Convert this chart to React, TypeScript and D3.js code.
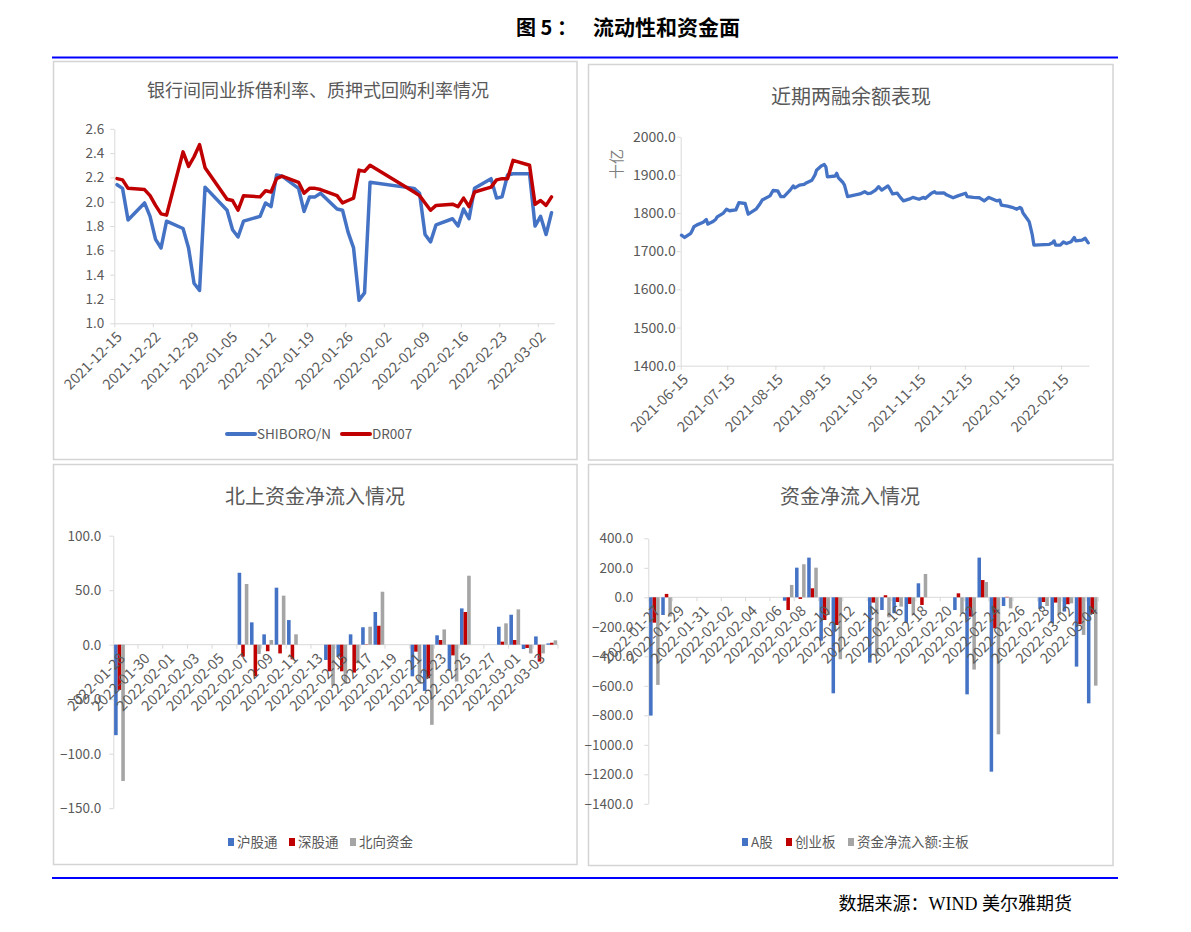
import { useEffect, useRef } from 'react';
import * as d3 from 'd3';

const W = 1191;
const H = 932;
const FONT = "'Noto Sans CJK SC', 'Noto Sans', sans-serif";
const AXIS = '#d9d9d9';
const LABEL = '#595959';
const BLUE = '#4472c4';
const RED = '#c00000';
const GRAY = '#a5a5a5';

// ---- 银行间同业拆借利率、质押式回购利率 ----
const rateDates = [
  '2021-12-15', '2021-12-16', '2021-12-17', '2021-12-20', '2021-12-21', '2021-12-22', '2021-12-23', '2021-12-24',
  '2021-12-27', '2021-12-28', '2021-12-29', '2021-12-30', '2021-12-31', '2022-01-04', '2022-01-05', '2022-01-06',
  '2022-01-07', '2022-01-10', '2022-01-11', '2022-01-12', '2022-01-13', '2022-01-14', '2022-01-17', '2022-01-18',
  '2022-01-19', '2022-01-20', '2022-01-21', '2022-01-24', '2022-01-25', '2022-01-26', '2022-01-27', '2022-01-28',
  '2022-01-29', '2022-01-30', '2022-02-07', '2022-02-08', '2022-02-09', '2022-02-10', '2022-02-11', '2022-02-14',
  '2022-02-15', '2022-02-16', '2022-02-17', '2022-02-18', '2022-02-21', '2022-02-22', '2022-02-23', '2022-02-24',
  '2022-02-25', '2022-02-28', '2022-03-01', '2022-03-02', '2022-03-03', '2022-03-04'
];
const shiborValues = [
  2.14, 2.11, 1.85, 1.99, 1.88, 1.69, 1.62, 1.84,
  1.78, 1.62, 1.33, 1.27, 2.12, 1.93, 1.77, 1.71,
  1.84, 1.88, 1.99, 1.96, 2.22, 2.21, 2.11, 1.92,
  2.04, 2.04, 2.07, 1.94, 1.93, 1.75, 1.62, 1.19,
  1.25, 2.16, 2.11, 2.07, 1.73, 1.67, 1.81, 1.86,
  1.80, 1.94, 1.86, 2.11, 2.19, 2.03, 2.04, 2.22,
  2.23, 2.23, 1.80, 1.88, 1.73, 1.91
];
const dr007Values = [
  2.19, 2.18, 2.11, 2.10, 2.05, 1.97, 1.90, 1.89,
  2.41, 2.29, 2.37, 2.47, 2.28, 2.02, 2.01, 1.93,
  2.05, 2.04, 2.09, 2.08, 2.19, 2.21, 2.16, 2.07,
  2.11, 2.11, 2.10, 2.05, 1.99, 2.01, 2.03, 2.26,
  2.25, 2.30, 2.08, 2.05, 1.99, 1.93, 1.97, 1.98,
  1.96, 2.03, 1.96, 2.08, 2.12, 2.18, 2.19, 2.19,
  2.34, 2.30, 1.98, 2.01, 1.97, 2.04
];
const rateDomain = ['2021-12-15', '2022-03-05'];
const rateTicks = [
  '2021-12-15', '2021-12-22', '2021-12-29', '2022-01-05', '2022-01-12', '2022-01-19',
  '2022-01-26', '2022-02-02', '2022-02-09', '2022-02-16', '2022-02-23', '2022-03-02'
];
const rateYTicks = [1.0, 1.2, 1.4, 1.6, 1.8, 2.0, 2.2, 2.4, 2.6];

// ---- 近期两融余额 ----
const marginDates = [
  '2021-06-15', '2021-06-17', '2021-06-21', '2021-06-22', '2021-06-23', '2021-06-25', '2021-06-29', '2021-07-01',
  '2021-07-02', '2021-07-05', '2021-07-07', '2021-07-08', '2021-07-12', '2021-07-14', '2021-07-16', '2021-07-20',
  '2021-07-22', '2021-07-26', '2021-07-28', '2021-08-02', '2021-08-04', '2021-08-06', '2021-08-11', '2021-08-13',
  '2021-08-16', '2021-08-18', '2021-08-20', '2021-08-24', '2021-08-26', '2021-08-27', '2021-08-30', '2021-09-02',
  '2021-09-03', '2021-09-07', '2021-09-09', '2021-09-10', '2021-09-13', '2021-09-15', '2021-09-16', '2021-09-17',
  '2021-09-22', '2021-09-23', '2021-09-24', '2021-09-27', '2021-09-28', '2021-09-30', '2021-10-08', '2021-10-11',
  '2021-10-13', '2021-10-15', '2021-10-18', '2021-10-20', '2021-10-22', '2021-10-26', '2021-10-27', '2021-10-29',
  '2021-11-01', '2021-11-03', '2021-11-05', '2021-11-09', '2021-11-11', '2021-11-15', '2021-11-18', '2021-11-19',
  '2021-11-23', '2021-11-25', '2021-11-26', '2021-12-01', '2021-12-03', '2021-12-07', '2021-12-10', '2021-12-15',
  '2021-12-16', '2021-12-20', '2021-12-24', '2021-12-27', '2021-12-30', '2022-01-04', '2022-01-06', '2022-01-07',
  '2022-01-11', '2022-01-14', '2022-01-17', '2022-01-19', '2022-01-20', '2022-01-21', '2022-01-24', '2022-01-25',
  '2022-01-26', '2022-01-27', '2022-01-28', '2022-02-07', '2022-02-09', '2022-02-10', '2022-02-11', '2022-02-14',
  '2022-02-16', '2022-02-18', '2022-02-21', '2022-02-23', '2022-02-24', '2022-02-28', '2022-03-02', '2022-03-04'
];
const marginValues = [
  1742, 1736, 1747, 1755, 1764, 1769, 1776, 1783,
  1771, 1777, 1783, 1790, 1800, 1810, 1806, 1808,
  1827, 1825, 1797, 1810, 1821, 1834, 1845, 1859,
  1858, 1843, 1843, 1860, 1871, 1866, 1873, 1875,
  1878, 1886, 1900, 1912, 1923, 1927, 1921, 1895,
  1897, 1904, 1893, 1880, 1873, 1843, 1850, 1856,
  1851, 1852, 1860, 1869, 1860, 1871, 1865, 1850,
  1852, 1841, 1832, 1837, 1841, 1836, 1841, 1838,
  1852, 1856, 1852, 1853, 1847, 1840, 1845, 1852,
  1843, 1841, 1840, 1832, 1841, 1832, 1834, 1821,
  1818, 1815, 1810, 1815, 1812, 1800, 1783, 1777,
  1760, 1742, 1716, 1718, 1722, 1727, 1716, 1716,
  1724, 1720, 1725, 1736, 1727, 1729, 1734, 1722
];
const marginDomain = ['2021-06-15', '2022-03-05'];
const marginTicks = [
  '2021-06-15', '2021-07-15', '2021-08-15', '2021-09-15', '2021-10-15',
  '2021-11-15', '2021-12-15', '2022-01-15', '2022-02-15'
];
const marginYTicks = [1400, 1500, 1600, 1700, 1800, 1900, 2000];

// ---- 北上资金净流入 ----
const northRange = ['2022-01-28', '2022-03-05'];
const northDates = [
  '2022-01-28', '2022-02-07', '2022-02-08', '2022-02-09', '2022-02-10', '2022-02-11', '2022-02-14',
  '2022-02-15', '2022-02-16', '2022-02-17', '2022-02-18', '2022-02-21', '2022-02-22', '2022-02-23',
  '2022-02-24', '2022-02-25', '2022-02-28', '2022-03-01', '2022-03-02', '2022-03-03', '2022-03-04'
];
const shConnect = [-83, 66, 20.5, 9.5, 52.3, 22.6, -14, -11, 9.5, 16, 30, -29, -42.4, 8.6, -23.8, 33.3, 16.5, 27.5, -4, 7.6, 1.2];
const szConnect = [-41.5, -11, -29, -6, -8, -13.4, -24.4, -24.4, -25.6, 0.3, 17.4, -6.4, -30.8, 4.3, -9.8, 30, 2.8, 4.3, -3, -15.5, 1.8];
const northTotal = [-125, 55.7, -8.5, 4.3, 45, 9.5, -37.5, -36, -17, 16.5, 48.6, -36, -73.5, 14, -33.8, 63.3, 19.6, 32.4, -8, -8, 4];
const northYTicks = [-150, -100, -50, 0, 50, 100];
const northSeries = ['沪股通', '深股通', '北向资金'];

// ---- 资金净流入 ----
const flowRange = ['2022-01-27', '2022-03-05'];
const flowDates = [
  '2022-01-27', '2022-01-28', '2022-02-07', '2022-02-08', '2022-02-09', '2022-02-10', '2022-02-11', '2022-02-14',
  '2022-02-15', '2022-02-16', '2022-02-17', '2022-02-18', '2022-02-21', '2022-02-22', '2022-02-23', '2022-02-24',
  '2022-02-25', '2022-02-28', '2022-03-01', '2022-03-02', '2022-03-03', '2022-03-04'
];
const aShare = [-802, -120, -23, 201, 269, -294, -651, -443, -86, -108, -172, 95, -86, -658, 269, -1182, -59, -79, -176, -97, -470, -719];
const chiNext = [-172, 23, -86, -11, 61, -154, -188, -36, 14, -32, -45, -52, 27, -131, 117, -210, 3, -32, -36, -47, -183, -113];
const mainBoard = [-594, -130, 84, 224, 201, -120, -420, -398, -136, -63, -120, 158, -108, -490, 104, -929, -75, -59, -120, -41, -255, -599];
const flowYTicks = [-1400, -1200, -1000, -800, -600, -400, -200, 0, 200, 400];
const flowSeries = ['A股', '创业板', '资金净流入额:主板'];

const parse = d3.timeParse('%Y-%m-%d');
const fmtDay = d3.timeFormat('%Y-%m-%d');
const noon = (s: string) => d3.timeHour.offset(parse(s) as Date, 12);

type Sel = d3.Selection<SVGGElement, unknown, null, undefined>;

function styleAxis(g: Sel, size = 13.5) {
  g.attr('font-family', FONT).attr('font-size', size);
  g.select('.domain').attr('stroke', AXIS).attr('stroke-width', 1);
  g.selectAll('line').attr('stroke', AXIS);
  g.selectAll('text').attr('fill', LABEL);
}

function rotatedLabels(g: Sel, items: { x: number; text: string }[], y: number) {
  g.append('g')
    .selectAll('text')
    .data(items)
    .join('text')
    .attr('transform', d => `translate(${d.x},${y}) rotate(-45)`)
    .attr('text-anchor', 'end')
    .attr('dy', '0.35em')
    .attr('font-family', FONT)
    .attr('font-size', 14.5)
    .attr('fill', LABEL)
    .text(d => d.text);
}

function title(g: Sel, text: string, x: number, y: number, size: number) {
  g.append('text')
    .attr('x', x)
    .attr('y', y)
    .attr('text-anchor', 'middle')
    .attr('font-family', FONT)
    .attr('font-size', size)
    .attr('fill', LABEL)
    .text(text);
}

function panel(g: Sel, x: number, y: number, w: number, h: number) {
  g.append('rect')
    .attr('x', x).attr('y', y).attr('width', w).attr('height', h)
    .attr('fill', '#fff').attr('stroke', '#d4d4d4').attr('stroke-width', 1.5);
}

function squareLegend(g: Sel, names: string[], colors: string[], xs: number[], y: number) {
  names.forEach((n, i) => {
    g.append('rect').attr('x', xs[i]).attr('y', y - 4).attr('width', 6).attr('height', 8).attr('fill', colors[i]);
    g.append('text')
      .attr('x', xs[i] + 9).attr('y', y).attr('dy', '0.35em')
      .attr('font-family', FONT).attr('font-size', 13.5).attr('fill', LABEL)
      .text(n);
  });
}

function drawRates(root: Sel) {
  const g = root.append('g');
  panel(g, 53.5, 61.5, 523.5, 398);
  title(g, '银行间同业拆借利率、质押式回购利率情况', 318, 97, 18);

  const x = d3.scaleTime().domain(rateDomain.map(d => parse(d) as Date)).range([114.3, 554.3]);
  const y = d3.scaleLinear().domain([1.0, 2.6]).range([323.3, 128.8]);

  g.append('g').attr('transform', 'translate(114.3,0)')
    .call(d3.axisLeft(y).tickValues(rateYTicks).tickSize(4).tickSizeOuter(0).tickPadding(6).tickFormat(d3.format('.1f')))
    .call(s => styleAxis(s));
  g.append('g').attr('transform', `translate(0,${y(1.0)})`)
    .call(d3.axisBottom(x).tickValues(rateTicks.map(d => parse(d) as Date)).tickSize(4).tickSizeOuter(0).tickFormat(() => ''))
    .call(s => styleAxis(s));
  rotatedLabels(g, rateTicks.map(d => ({ x: x(parse(d) as Date) + 5, text: d })), y(1.0) + 11);

  const line = d3.line<[string, number]>().x(d => x(noon(d[0]))).y(d => y(d[1]));
  const series: [number[], string][] = [[shiborValues, BLUE], [dr007Values, RED]];
  series.forEach(([vals, color]) => {
    g.append('path')
      .datum(rateDates.map((d, i) => [d, vals[i]] as [string, number]))
      .attr('d', line)
      .attr('fill', 'none').attr('stroke', color).attr('stroke-width', 3.5)
      .attr('stroke-linejoin', 'round').attr('stroke-linecap', 'round');
  });

  const legend: [string, string, number][] = [['SHIBORO/N', BLUE, 227], ['DR007', RED, 342]];
  legend.forEach(([n, c, lx]) => {
    g.append('line').attr('x1', lx).attr('x2', lx + 28).attr('y1', 434).attr('y2', 434)
      .attr('stroke', c).attr('stroke-width', 4).attr('stroke-linecap', 'round');
    g.append('text').attr('x', lx + 30).attr('y', 434).attr('dy', '0.35em')
      .attr('font-family', FONT).attr('font-size', 13.5).attr('fill', LABEL).text(n);
  });
}

function drawMargin(root: Sel) {
  const g = root.append('g');
  panel(g, 588.5, 64.5, 524.5, 395.5);
  title(g, '近期两融余额表现', 851, 104, 20);

  const x = d3.scaleTime().domain(marginDomain.map(d => parse(d) as Date)).range([680.7, 1089]);
  const y = d3.scaleLinear().domain([1400, 2000]).range([365.7, 136.7]);

  g.append('g').attr('transform', 'translate(680.7,0)')
    .call(d3.axisLeft(y).tickValues(marginYTicks).tickSize(4).tickSizeOuter(0).tickPadding(1).tickFormat(d3.format('.1f')))
    .call(s => styleAxis(s, 14));
  g.append('g').attr('transform', `translate(0,${y(1400)})`)
    .call(d3.axisBottom(x).tickValues(marginTicks.map(d => parse(d) as Date)).tickSize(4).tickSizeOuter(0).tickFormat(() => ''))
    .call(s => styleAxis(s));
  rotatedLabels(g, marginTicks.map(d => ({ x: x(parse(d) as Date) + 5, text: d })), y(1400) + 11);

  g.append('text')
    .attr('transform', 'translate(617,164) rotate(-90)')
    .attr('text-anchor', 'middle').attr('dy', '0.35em')
    .attr('font-family', FONT).attr('font-size', 15).attr('fill', '#7f7f7f')
    .text('十亿');

  const line = d3.line<[string, number]>().x(d => x(noon(d[0]))).y(d => y(d[1]));
  g.append('path')
    .datum(marginDates.map((d, i) => [d, marginValues[i]] as [string, number]))
    .attr('d', line)
    .attr('fill', 'none').attr('stroke', BLUE).attr('stroke-width', 3.3)
    .attr('stroke-linejoin', 'round').attr('stroke-linecap', 'round');
}

function drawBars(
  root: Sel,
  opts: {
    box: [number, number, number, number];
    titleText: string;
    titleX: number;
    range: string[];
    xRange: [number, number];
    yDomain: [number, number];
    yRange: [number, number];
    yTicks: number[];
    yPad: number;
    dates: string[];
    values: number[][];
    names: string[];
    legendX: number[];
  }
) {
  const g = root.append('g');
  panel(g, ...opts.box);
  title(g, opts.titleText, opts.titleX, 504, 20);

  const days = d3.timeDay.range(parse(opts.range[0]) as Date, parse(opts.range[1]) as Date).map(fmtDay);
  const x = d3.scaleBand<string>().domain(days).range(opts.xRange);
  const y = d3.scaleLinear().domain(opts.yDomain).range(opts.yRange);
  const colors = [BLUE, RED, GRAY];
  const sub = d3.scaleBand<number>().domain([0, 1, 2]).range([0.8, x.bandwidth() - 0.8]);

  g.append('g').attr('transform', `translate(${opts.xRange[0]},0)`)
    .call(d3.axisLeft(y).tickValues(opts.yTicks).tickSize(4).tickSizeOuter(0).tickPadding(opts.yPad).tickFormat(d3.format('.1f')))
    .call(s => styleAxis(s));

  const y0 = y(0);
  const ax = g.append('g');
  ax.append('line').attr('x1', opts.xRange[0]).attr('x2', opts.xRange[1]).attr('y1', y0).attr('y2', y0).attr('stroke', AXIS);
  const tickDays = days.filter((_, i) => i % 2 === 0);
  ax.selectAll('line.tk')
    .data([...tickDays.map(d => x(d) as number), opts.xRange[1]])
    .join('line')
    .attr('class', 'tk')
    .attr('x1', d => d).attr('x2', d => d).attr('y1', y0).attr('y2', y0 + 4)
    .attr('stroke', AXIS);

  opts.values.forEach((vals, si) => {
    g.append('g')
      .selectAll('rect')
      .data(opts.dates.map((d, i) => ({ d, v: vals[i] })))
      .join('rect')
      .attr('x', r => (x(r.d) as number) + (sub(si) as number))
      .attr('width', sub.bandwidth())
      .attr('y', r => Math.min(y(r.v), y0))
      .attr('height', r => Math.abs(y(r.v) - y0))
      .attr('fill', colors[si]);
  });

  rotatedLabels(g, tickDays.map(d => ({ x: (x(d) as number) + x.bandwidth() / 2 + 3, text: d })), y0 + 11);
  squareLegend(g, opts.names, colors, opts.legendX, 842);
}

export default function App() {
  const svgRef = useRef<SVGSVGElement>(null);

  useEffect(() => {
    if (!svgRef.current) return;
    const svg = d3.select(svgRef.current);
    svg.selectAll('*').remove();
    const root = svg.append('g') as Sel;

    root.append('rect').attr('width', W).attr('height', H).attr('fill', '#fff');

    // header
    root.append('text').attr('x', 516).attr('y', 35).attr('xml:space', 'preserve')
      .attr('font-family', FONT).attr('font-size', 20).attr('font-weight', 'bold').attr('fill', '#000')
      .text('图 5 ：');
    root.append('text').attr('x', 593).attr('y', 35)
      .attr('font-family', FONT).attr('font-size', 21).attr('font-weight', 'bold').attr('fill', '#000')
      .text('流动性和资金面');
    root.append('line').attr('x1', 52).attr('x2', 1118).attr('y1', 57.5).attr('y2', 57.5)
      .attr('stroke', '#0000ff').attr('stroke-width', 2.2);
    root.append('line').attr('x1', 52).attr('x2', 1118).attr('y1', 878).attr('y2', 878)
      .attr('stroke', '#0000ff').attr('stroke-width', 2.2);
    root.append('text').attr('x', 1072).attr('y', 910).attr('text-anchor', 'end')
      .attr('font-family', "'Liberation Serif', 'Noto Sans CJK SC', serif").attr('font-size', 18).attr('fill', '#000')
      .text('数据来源：WIND 美尔雅期货');

    drawRates(root);
    drawMargin(root);
    drawBars(root, {
      box: [53.5, 464.5, 523.5, 400],
      titleText: '北上资金净流入情况',
      titleX: 315,
      range: northRange,
      xRange: [113.3, 558],
      yDomain: [-150, 100],
      yRange: [808.2, 535.7],
      yTicks: northYTicks,
      yPad: 8,
      dates: northDates,
      values: [shConnect, szConnect, northTotal],
      names: northSeries,
      legendX: [228, 289, 350],
    });
    drawBars(root, {
      box: [588.5, 464.5, 524.5, 401],
      titleText: '资金净流入情况',
      titleX: 850,
      range: flowRange,
      xRange: [648.3, 1098.3],
      yDomain: [-1400, 400],
      yRange: [803.8, 538.3],
      yTicks: flowYTicks,
      yPad: 11,
      dates: flowDates,
      values: [aShare, chiNext, mainBoard],
      names: flowSeries,
      legendX: [742, 786, 848],
    });
  }, []);

  return (
    <svg
      ref={svgRef}
      width={W}
      height={H}
      style={{ position: 'absolute', left: 0, top: 0 }}
    />
  );
}
